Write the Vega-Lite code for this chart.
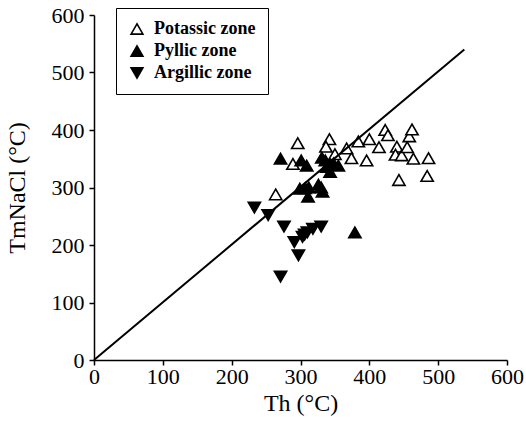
{
  "$schema": "https://vega.github.io/schema/vega-lite/v6.json",
  "autosize": "none",
  "width": 413,
  "height": 345,
  "padding": {"left": 94, "top": 15, "right": 19, "bottom": 67},
  "background": "white",
  "config": {
    "view": {"stroke": null},
    "font": "Liberation Serif",
    "axis": {
      "domainColor": "black",
      "domainWidth": 1.5,
      "tickColor": "black",
      "tickWidth": 1.5,
      "tickSize": 5,
      "grid": false,
      "labelFlush": false,
      "labelFont": "Liberation Serif",
      "labelFontSize": 22,
      "labelColor": "black",
      "titleFont": "Liberation Serif",
      "titleFontSize": 24,
      "titleFontWeight": "normal",
      "titleColor": "black"
    },
    "legend": {
      "title": null,
      "orient": "none",
      "legendX": 22,
      "legendY": -7,
      "strokeColor": "black",
      "fillColor": "white",
      "padding": 12,
      "labelFont": "Liberation Serif",
      "labelFontSize": 18,
      "labelFontWeight": "bold",
      "labelColor": "black",
      "symbolSize": 140,
      "symbolStrokeColor": "black",
      "symbolStrokeWidth": 1.6,
      "rowPadding": 4,
      "labelOffset": 8
    }
  },
  "layer": [
    {
      "data": {
        "values": [
          {"zone": "Potassic zone", "th": 264, "tm": 288},
          {"zone": "Potassic zone", "th": 296, "tm": 377},
          {"zone": "Potassic zone", "th": 289, "tm": 341},
          {"zone": "Potassic zone", "th": 342, "tm": 384},
          {"zone": "Potassic zone", "th": 337, "tm": 371},
          {"zone": "Potassic zone", "th": 367, "tm": 368},
          {"zone": "Potassic zone", "th": 374, "tm": 351},
          {"zone": "Potassic zone", "th": 384, "tm": 380},
          {"zone": "Potassic zone", "th": 400, "tm": 384},
          {"zone": "Potassic zone", "th": 396, "tm": 347},
          {"zone": "Potassic zone", "th": 414, "tm": 370},
          {"zone": "Potassic zone", "th": 423, "tm": 400},
          {"zone": "Potassic zone", "th": 427, "tm": 391},
          {"zone": "Potassic zone", "th": 440, "tm": 371},
          {"zone": "Potassic zone", "th": 438, "tm": 357},
          {"zone": "Potassic zone", "th": 447, "tm": 356},
          {"zone": "Potassic zone", "th": 455, "tm": 370},
          {"zone": "Potassic zone", "th": 458, "tm": 389},
          {"zone": "Potassic zone", "th": 462, "tm": 401},
          {"zone": "Potassic zone", "th": 464, "tm": 350},
          {"zone": "Potassic zone", "th": 486, "tm": 351},
          {"zone": "Potassic zone", "th": 443, "tm": 313},
          {"zone": "Potassic zone", "th": 484, "tm": 320},
          {"zone": "Potassic zone", "th": 350, "tm": 358},
          {"zone": "Pyllic zone", "th": 271, "tm": 350},
          {"zone": "Pyllic zone", "th": 301, "tm": 347},
          {"zone": "Pyllic zone", "th": 309, "tm": 338},
          {"zone": "Pyllic zone", "th": 299, "tm": 298},
          {"zone": "Pyllic zone", "th": 307, "tm": 299},
          {"zone": "Pyllic zone", "th": 311, "tm": 284},
          {"zone": "Pyllic zone", "th": 326, "tm": 305},
          {"zone": "Pyllic zone", "th": 332, "tm": 293},
          {"zone": "Pyllic zone", "th": 331, "tm": 352},
          {"zone": "Pyllic zone", "th": 336, "tm": 347},
          {"zone": "Pyllic zone", "th": 338, "tm": 336},
          {"zone": "Pyllic zone", "th": 343, "tm": 340},
          {"zone": "Pyllic zone", "th": 348, "tm": 342},
          {"zone": "Pyllic zone", "th": 355, "tm": 338},
          {"zone": "Pyllic zone", "th": 343, "tm": 327},
          {"zone": "Pyllic zone", "th": 379, "tm": 222},
          {"zone": "Pyllic zone", "th": 312, "tm": 300},
          {"zone": "Pyllic zone", "th": 330, "tm": 300},
          {"zone": "Argillic zone", "th": 233, "tm": 265},
          {"zone": "Argillic zone", "th": 253, "tm": 252},
          {"zone": "Argillic zone", "th": 276, "tm": 232},
          {"zone": "Argillic zone", "th": 291, "tm": 205},
          {"zone": "Argillic zone", "th": 297, "tm": 182},
          {"zone": "Argillic zone", "th": 271, "tm": 145},
          {"zone": "Argillic zone", "th": 303, "tm": 214},
          {"zone": "Argillic zone", "th": 310, "tm": 222},
          {"zone": "Argillic zone", "th": 318, "tm": 228},
          {"zone": "Argillic zone", "th": 330, "tm": 232},
          {"zone": "Argillic zone", "th": 306, "tm": 218}
        ]
      },
      "mark": {"type": "point", "filled": true, "size": 150, "strokeWidth": 1.6, "opacity": 1},
      "encoding": {
        "x": {
          "field": "th", "type": "quantitative",
          "scale": {"domain": [0, 600], "nice": false, "zero": true},
          "axis": {"values": [0, 100, 200, 300, 400, 500, 600], "title": "Th (°C)", "labelPadding": 1, "titlePadding": 4}
        },
        "y": {
          "field": "tm", "type": "quantitative",
          "scale": {"domain": [0, 600], "nice": false},
          "axis": {"values": [0, 100, 200, 300, 400, 500, 600], "title": "TmNaCl (°C)", "labelPadding": 5, "titlePadding": 22}
        },
        "shape": {
          "field": "zone", "type": "nominal",
          "scale": {"domain": ["Potassic zone", "Pyllic zone", "Argillic zone"], "range": ["triangle-up", "triangle-up", "triangle-down"]},
          "legend": {"title": null}
        },
        "fill": {
          "field": "zone", "type": "nominal",
          "scale": {"domain": ["Potassic zone", "Pyllic zone", "Argillic zone"], "range": ["white", "black", "black"]},
          "legend": {"title": null}
        },
        "stroke": {
          "field": "zone", "type": "nominal",
          "scale": {"domain": ["Potassic zone", "Pyllic zone", "Argillic zone"], "range": ["black", "black", "black"]},
          "legend": {"title": null}
        }
      }
    },
    {
      "data": {"values": [{"th": 0, "tm": 0}, {"th": 538, "tm": 540}]},
      "mark": {"type": "line", "color": "black", "strokeWidth": 2},
      "encoding": {
        "x": {"field": "th", "type": "quantitative"},
        "y": {"field": "tm", "type": "quantitative"}
      }
    }
  ]
}
